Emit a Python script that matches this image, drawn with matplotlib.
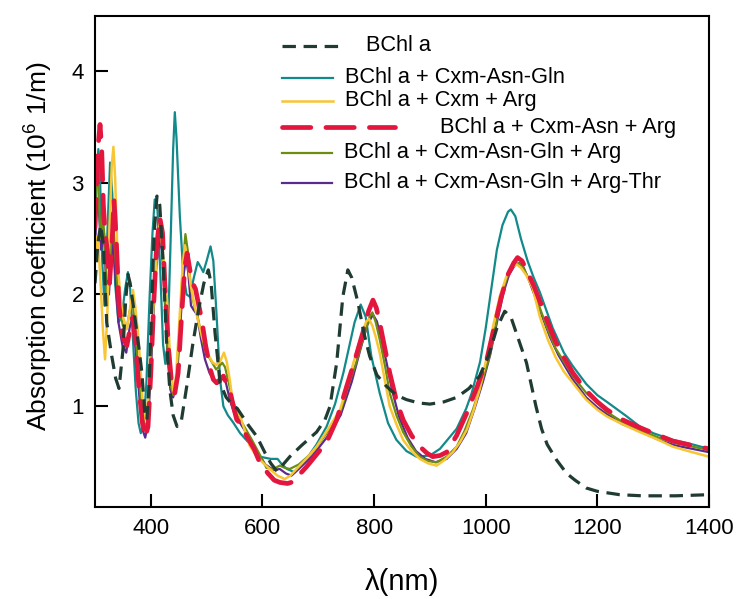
import matplotlib
matplotlib.use("Agg")
from matplotlib import pyplot as plt
from matplotlib.lines import Line2D

plt.rcParams['font.family'] = ['Liberation Sans', 'DejaVu Sans']
plt.rcParams['mathtext.fontset'] = 'custom'
plt.rcParams['mathtext.rm'] = 'Liberation Sans'

# spectra (wavelength in nm, absorption in 10^6 1/m)
wl_bchl = [300, 305, 310, 315, 321, 330, 337, 343, 350, 355, 359, 363, 370, 378, 384, 389, 393, 397,
           401, 406, 411, 416, 422, 428, 434, 440, 447, 455, 465, 475, 485, 495, 503, 508, 515, 524,
           535, 545, 555, 575, 590, 605, 615, 626, 637, 649, 670, 697, 712, 721, 733, 744, 753, 760,
           771, 782, 792, 805, 822, 840, 858, 880, 900, 925, 948, 970, 989, 1005, 1020, 1034, 1045,
           1060, 1073, 1090, 1100, 1110, 1127, 1145, 1160, 1180, 1200, 1240, 1280, 1340, 1400]
ab_bchl = [2.10, 2.45, 2.62, 2.45, 1.75, 1.45, 1.25, 1.16, 1.50, 1.95, 2.18, 2.10, 1.85, 1.55, 1.30,
           0.95, 0.88, 1.20, 1.80, 2.55, 2.88, 2.80, 2.30, 1.60, 1.15, 0.92, 0.82, 0.88, 1.20, 1.55,
           1.85, 2.10, 2.22, 2.10, 1.66, 1.21, 1.08, 1.02, 0.98, 0.83, 0.73, 0.58, 0.49, 0.42, 0.48,
           0.55, 0.65, 0.77, 0.88, 1.00, 1.39, 1.98, 2.22, 2.15, 1.93, 1.65, 1.45, 1.28, 1.18, 1.10,
           1.06, 1.03, 1.02, 1.04, 1.08, 1.16, 1.27, 1.45, 1.70, 1.85, 1.80, 1.58, 1.39, 1.00, 0.80,
           0.66, 0.52, 0.40, 0.34, 0.27, 0.24, 0.21, 0.20, 0.20, 0.21]

wl_gln = [300, 303, 306, 309, 313, 317, 321, 327, 331, 336, 342, 348, 354, 359, 363, 368, 373, 378,
          382, 387, 392, 398, 403, 407, 412, 417, 422, 426, 430, 435, 440, 443, 446, 452, 458, 464,
          470, 477, 484, 490, 494, 500, 507, 512, 518, 524, 530, 538, 547, 560, 580, 595, 615, 627,
          635, 644, 658, 679, 697, 715, 730, 745, 765, 776, 785, 795, 810, 825, 840, 858, 876, 900,
          918, 948, 965, 975, 990, 1000, 1010, 1020, 1030, 1040, 1045, 1053, 1063, 1075, 1086, 1097,
          1120, 1140, 1156, 1180, 1200, 1217, 1250, 1276, 1300, 1335, 1370, 1400]
ab_gln = [2.60, 3.05, 3.30, 3.05, 2.30, 1.90, 2.40, 3.18, 2.90, 2.10, 1.75, 1.80, 2.05, 2.20, 2.05,
          1.60, 1.15, 0.85, 0.76, 0.82, 1.20, 2.00, 2.55, 2.85, 2.75, 2.20, 1.55, 1.38, 1.55, 2.40,
          3.30, 3.63, 3.40, 2.70, 2.20, 2.00, 1.98, 2.15, 2.29, 2.24, 2.20, 2.30, 2.43, 2.30, 1.80,
          1.24, 1.00, 0.92, 0.86, 0.76, 0.65, 0.55, 0.53, 0.53, 0.48, 0.44, 0.41, 0.53, 0.66, 0.82,
          1.02, 1.30, 1.75, 1.91, 1.80, 1.45, 1.12, 0.85, 0.70, 0.60, 0.55, 0.56, 0.62, 0.80, 0.98,
          1.12, 1.40, 1.70, 2.05, 2.40, 2.62, 2.74, 2.76, 2.70, 2.50, 2.30, 2.15, 2.02, 1.70, 1.48,
          1.36, 1.20, 1.10, 1.04, 0.92, 0.82, 0.76, 0.70, 0.66, 0.62]

wl_cxm = [300, 303, 306, 310, 314, 318, 322, 326, 330, 333, 336, 341, 346, 350, 357, 362, 368, 372,
          377, 382, 386, 390, 395, 400, 407, 412, 416, 421, 429, 435, 440, 445, 451, 457, 461, 466,
          471, 476, 483, 493, 503, 511, 518, 524, 531, 536, 541, 547, 553, 560, 570, 577, 590, 602,
          613, 627, 640, 650, 661, 680, 697, 718, 739, 752, 763, 775, 786, 791, 797, 803, 810, 819,
          828, 840, 852, 867, 882, 897, 912, 926, 941, 954, 966, 978, 989, 1001, 1013, 1025, 1037,
          1047, 1055, 1063, 1073, 1084, 1097, 1111, 1125, 1140, 1156, 1180, 1200, 1217, 1245, 1276,
          1305, 1335, 1370, 1400]
ab_cxm = [2.30, 2.52, 2.45, 2.10, 1.70, 1.42, 1.80, 2.60, 3.15, 3.32, 3.05, 2.25, 1.95, 1.80, 1.69,
          1.85, 2.04, 1.90, 1.66, 1.30, 1.00, 0.88, 1.05, 1.55, 2.07, 2.45, 2.64, 2.40, 1.96, 1.40,
          1.13, 1.25, 1.75, 2.25, 2.44, 2.30, 2.10, 1.96, 1.80, 1.60, 1.46, 1.39, 1.37, 1.40, 1.48,
          1.40, 1.25, 1.04, 0.96, 0.91, 0.76, 0.65, 0.55, 0.49, 0.44, 0.38, 0.35, 0.38, 0.44, 0.54,
          0.64, 0.80, 0.97, 1.18, 1.39, 1.60, 1.76, 1.78, 1.72, 1.62, 1.48, 1.24, 1.00, 0.84, 0.70,
          0.60, 0.53, 0.49, 0.47, 0.52, 0.59, 0.68, 0.79, 0.96, 1.15, 1.42, 1.71, 1.98, 2.16, 2.24,
          2.27, 2.24, 2.17, 2.06, 1.80, 1.60, 1.44, 1.31, 1.21, 1.06, 0.97, 0.91, 0.84, 0.77, 0.71,
          0.64, 0.59, 0.55]

wl_asn = [300, 303, 306, 309, 312, 315, 318, 322, 326, 330, 334, 338, 343, 350, 357, 363, 368, 373,
          379, 385, 390, 395, 400, 405, 410, 416, 421, 426, 432, 437, 443, 449, 455, 461, 465, 470,
          475, 480, 486, 491, 498, 506, 512, 518, 524, 530, 536, 542, 548, 554, 562, 572, 585, 595,
          610, 621, 631, 645, 658, 668, 679, 697, 715, 733, 751, 766, 780, 790, 798, 804, 810, 820,
          828, 840, 852, 867, 882, 895, 905, 918, 930, 948, 966, 985, 1002, 1015, 1028, 1040, 1050,
          1057, 1065, 1075, 1086, 1097, 1109, 1125, 1140, 1156, 1180, 1200, 1217, 1245, 1276, 1305,
          1335, 1370, 1400]
ab_asn = [2.60, 3.00, 3.35, 3.52, 3.30, 2.80, 2.55, 2.40, 2.10, 2.40, 2.85, 2.50, 1.90, 1.62, 1.54,
          1.70, 1.80, 1.55, 1.15, 0.85, 0.72, 0.82, 1.30, 1.90, 2.40, 2.69, 2.55, 2.00, 1.50, 1.22,
          1.12, 1.30, 1.80, 2.25, 2.37, 2.22, 2.10, 2.05, 1.90, 1.78, 1.55, 1.34, 1.24, 1.21, 1.24,
          1.27, 1.20, 1.13, 1.00, 0.88, 0.84, 0.73, 0.62, 0.50, 0.40, 0.34, 0.32, 0.31, 0.33, 0.40,
          0.46, 0.57, 0.68, 0.88, 1.18, 1.42, 1.66, 1.85, 1.95, 1.88, 1.75, 1.50, 1.30, 1.05, 0.88,
          0.74, 0.64, 0.58, 0.55, 0.56, 0.59, 0.74, 0.94, 1.18, 1.42, 1.70, 1.98, 2.18, 2.28, 2.33,
          2.30, 2.20, 2.08, 1.94, 1.78, 1.58, 1.44, 1.30, 1.14, 1.04, 0.97, 0.88, 0.81, 0.75, 0.69,
          0.65, 0.62]

wl_arg = [300, 303, 306, 310, 314, 318, 322, 327, 332, 337, 343, 350, 357, 362, 367, 372, 378, 384,
          390, 395, 400, 405, 410, 415, 420, 425, 430, 435, 440, 445, 452, 458, 462, 466, 472, 478,
          484, 490, 497, 503, 510, 517, 523, 528, 533, 540, 547, 555, 565, 580, 595, 607, 620, 631,
          640, 649, 665, 690, 715, 739, 755, 768, 780, 792, 797, 803, 810, 820, 828, 840, 852, 867,
          882, 897, 912, 930, 948, 962, 977, 992, 1007, 1020, 1030, 1040, 1050, 1058, 1066, 1075,
          1084, 1097, 1110, 1125, 1140, 1156, 1180, 1200, 1217, 1245, 1276, 1310, 1340, 1370, 1400]
ab_arg = [2.80, 3.10, 2.95, 2.50, 2.70, 2.45, 1.90, 2.30, 2.70, 2.30, 1.90, 1.72, 1.70, 1.85, 1.95,
          1.70, 1.30, 0.95, 0.80, 0.90, 1.40, 1.95, 2.35, 2.58, 2.45, 2.00, 1.50, 1.20, 1.10, 1.20,
          1.75, 2.30, 2.54, 2.40, 2.05, 1.89, 1.80, 1.65, 1.50, 1.45, 1.39, 1.33, 1.36, 1.39, 1.35,
          1.20, 1.05, 0.94, 0.84, 0.71, 0.57, 0.45, 0.44, 0.47, 0.45, 0.44, 0.48, 0.59, 0.76, 0.94,
          1.20, 1.39, 1.60, 1.80, 1.84, 1.75, 1.60, 1.35, 1.12, 0.92, 0.77, 0.64, 0.55, 0.51, 0.50,
          0.55, 0.64, 0.78, 0.97, 1.20, 1.45, 1.78, 2.02, 2.18, 2.26, 2.28, 2.25, 2.16, 2.06, 1.88,
          1.70, 1.52, 1.40, 1.27, 1.12, 1.03, 0.95, 0.86, 0.79, 0.72, 0.67, 0.64, 0.61]

wl_thr = [300, 303, 307, 311, 316, 320, 325, 331, 336, 342, 349, 356, 362, 367, 373, 380, 386, 390,
          395, 400, 405, 410, 415, 420, 425, 430, 435, 440, 446, 452, 458, 463, 467, 472, 477, 483,
          490, 497, 505, 512, 518, 524, 530, 535, 542, 550, 560, 575, 590, 605, 620, 631, 642, 652,
          665, 690, 715, 740, 760, 775, 788, 798, 805, 812, 822, 832, 845, 860, 875, 892, 910, 930,
          948, 965, 980, 995, 1008, 1020, 1032, 1042, 1052, 1060, 1068, 1078, 1090, 1100, 1115, 1130,
          1156, 1180, 1200, 1217, 1245, 1276, 1310, 1340, 1370, 1400]
ab_thr = [2.40, 2.80, 2.75, 2.40, 2.55, 2.10, 2.00, 2.50, 2.20, 1.75, 1.55, 1.48, 1.70, 1.80, 1.50,
          1.05, 0.78, 0.72, 0.85, 1.30, 1.85, 2.25, 2.50, 2.40, 1.95, 1.45, 1.15, 1.08, 1.20, 1.65,
          2.15, 2.32, 2.20, 1.90, 1.86, 1.82, 1.60, 1.42, 1.30, 1.24, 1.20, 1.22, 1.28, 1.20, 1.05,
          0.93, 0.85, 0.73, 0.60, 0.48, 0.43, 0.44, 0.40, 0.38, 0.44, 0.56, 0.72, 0.92, 1.22, 1.50,
          1.73, 1.82, 1.76, 1.62, 1.40, 1.15, 0.90, 0.72, 0.60, 0.53, 0.50, 0.53, 0.62, 0.76, 0.98,
          1.22, 1.46, 1.75, 2.02, 2.18, 2.26, 2.28, 2.24, 2.12, 1.96, 1.82, 1.62, 1.46, 1.24, 1.08,
          0.99, 0.93, 0.84, 0.78, 0.70, 0.65, 0.62, 0.59]

labels = ['BChl a', 'BChl a + Cxm-Asn-Gln', 'BChl a + Cxm + Arg', 'BChl a + Cxm-Asn + Arg',
          'BChl a + Cxm-Asn-Gln + Arg', 'BChl a + Cxm-Asn-Gln + Arg-Thr']
colors = ['#1f3b32', '#12898a', '#f8c535', '#e3173e', '#6b8e10', '#5b2a8e']

fig = plt.figure(figsize=(7.37, 5.99), dpi=100)
ax = fig.add_axes([0.1289, 0.1536, 0.8331, 0.8197])

ax.plot(wl_gln, ab_gln, color=colors[1], lw=1.6)
ax.plot(wl_thr, ab_thr, color=colors[5], lw=1.6)
ax.plot(wl_arg, ab_arg, color=colors[4], lw=1.6)
ax.plot(wl_cxm, ab_cxm, color=colors[2], lw=1.8)
ax.plot(wl_asn, ab_asn, color=colors[3], lw=3.4, dashes=(6, 3.2), dash_capstyle='round')
ax.plot(wl_bchl, ab_bchl, color=colors[0], lw=2.3, dashes=(4.2, 2.4))

ax.set_xlim(300, 1400)
ax.set_ylim(0.1, 4.49)
ax.set_xticks([400, 600, 800, 1000, 1200, 1400])
ax.set_yticks([1, 2, 3, 4])
ax.tick_params(direction='in', length=9.5, width=1.5, labelsize=16)
ax.tick_params(axis='x', pad=8)
ax.tick_params(axis='y', pad=8)
for s in ax.spines.values():
    s.set_linewidth(1.5)

ax.set_xlabel('λ(nm)', fontsize=21)
ax.set_ylabel('Absorption coefficient (10$^{6}$ 1/m)', fontsize=19)
ax.xaxis.label.set_va('center')
ax.xaxis.set_label_coords(0.5, -0.153)
ax.yaxis.label.set_va('center')
ax.yaxis.set_label_coords(-0.093, 0.53)

# hand placed legend, spacing as in the original
leg_y = [0.9395, 0.8743, 0.8269, 0.7739, 0.721, 0.6599]
leg_x1 = [0.402, 0.3876, 0.3876, 0.4886, 0.386, 0.386]
leg_tx = [0.4414, 0.4072, 0.4072, 0.5619, 0.4055, 0.4055]
styles = [dict(lw=2.3, dashes=(4.2, 2.4)), dict(lw=1.6), dict(lw=1.8),
          dict(lw=3.4, dashes=(6, 3.2), dash_capstyle='round'), dict(lw=1.6), dict(lw=1.6)]
for i in range(6):
    ax.add_line(Line2D([0.3046, leg_x1[i]], [leg_y[i], leg_y[i]], color=colors[i],
                       transform=ax.transAxes, **styles[i]))
    ax.text(leg_tx[i], leg_y[i], labels[i], transform=ax.transAxes, fontsize=15.7,
            va='center', ha='left')

plt.savefig('out.png', dpi=100)
